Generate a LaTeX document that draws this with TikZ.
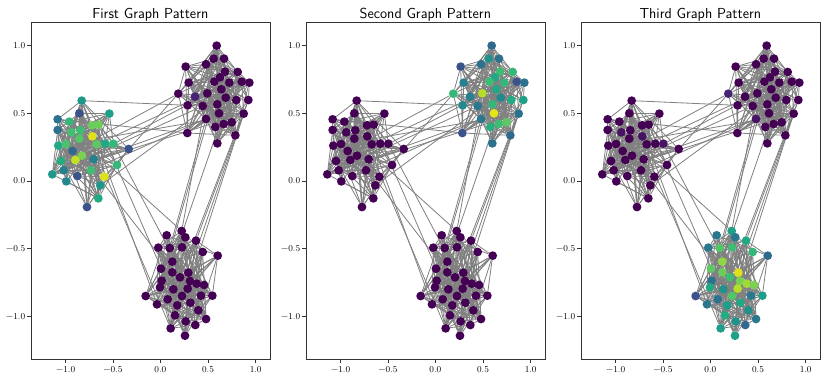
\documentclass[tikz,border=0pt]{standalone}
\usepackage{fontspec}
\pgfdeclarelayer{edges}
\pgfsetlayers{edges,main}
\definecolor{pu}{HTML}{440154}
\definecolor{pua}{HTML}{482475}
\definecolor{pub}{HTML}{471365}
\definecolor{na}{HTML}{3B528B}
\definecolor{ba}{HTML}{31688E}
\definecolor{bb}{HTML}{2C728E}
\definecolor{bc}{HTML}{2A788E}
\definecolor{bd}{HTML}{27808E}
\definecolor{be}{HTML}{23898E}
\definecolor{bf}{HTML}{21918C}
\definecolor{ta}{HTML}{1F988B}
\definecolor{tb}{HTML}{1F9E89}
\definecolor{tc}{HTML}{1FA187}
\definecolor{td}{HTML}{22A884}
\definecolor{te}{HTML}{25AB82}
\definecolor{tf}{HTML}{29AF7F}
\definecolor{ga}{HTML}{35B779}
\definecolor{gb}{HTML}{3DBC74}
\definecolor{gc}{HTML}{40BD72}
\definecolor{gd}{HTML}{44BF70}
\definecolor{ge}{HTML}{4AC16D}
\definecolor{gf}{HTML}{52C569}
\definecolor{gg}{HTML}{5EC962}
\definecolor{la}{HTML}{6CCD5A}
\definecolor{lb}{HTML}{7AD151}
\definecolor{lc}{HTML}{8FD744}
\definecolor{ld}{HTML}{A0DA39}
\definecolor{le}{HTML}{B5DE2B}
\definecolor{ya}{HTML}{C2DF23}
\definecolor{yb}{HTML}{DDE318}
\definecolor{yc}{HTML}{E5E419}
\def\nodelist{%
1/245/302/ta/pu/pu, 2/238/340/na/pu/pu, 3/328/341/tb/pu/pu, 4/173/358/bb/pu/pu,
5/208/365/ga/pu/pu, 6/173/390/bb/pu/pu, 7/241/391/gb/pu/pu, 8/214/397/gd/pu/pub,
9/276/376/la/pu/pu, 10/296/374/la/pu/pu, 11/277/409/yb/pu/pub, 12/238/416/gf/pu/pu,
13/175/437/td/pu/pu, 14/198/432/ge/pu/pu, 15/290/433/gg/pu/pu, 16/316/431/td/pu/pu,
17/340/431/ga/pu/pub, 18/386/447/na/pu/pu, 19/218/453/ba/pu/pu, 20/246/467/lb/pu/pu,
21/226/480/ya/pu/pu, 22/281/478/bd/pu/pu, 23/183/483/te/pu/pu, 24/351/495/ga/pu/pu,
25/191/511/bd/pu/pu, 26/273/511/gc/pu/pu, 27/157/523/ta/pu/pu, 28/232/528/na/pu/pu,
29/313/530/yb/pu/pu, 30/199/544/be/pu/pu, 31/301/556/ta/pu/pu, 32/295/595/td/pu/pu,
33/261/621/na/pu/pu,
34/650/137/pu/ba/pu, 35/557/200/pu/na/pu, 36/618/193/pu/bb/pu, 37/641/176/pu/bf/pu,
38/672/176/pu/bb/pu, 39/675/215/pu/gb/pu, 40/713/216/pu/ga/pu, 41/660/232/pu/td/pu,
42/566/248/pu/bd/pu, 43/643/245/pu/gb/pu, 44/688/248/pu/ga/pu, 45/725/245/pu/na/pu,
46/748/248/pu/bb/pu, 47/535/281/pu/ga/pua, 48/622/280/pu/le/pu, 49/585/290/pua/bd/pu,
50/652/313/pu/ga/pu, 51/677/293/pu/be/pu, 52/709/300/pu/te/pu, 53/745/300/pu/tc/pu,
54/563/316/pu/be/pu, 55/608/318/pu/bc/pu, 56/657/340/pu/yc/pu, 57/731/341/pu/bb/pu,
58/618/357/pu/bc/pub, 59/646/381/pu/tf/pu, 60/671/372/pu/gb/pu, 61/695/367/pu/gg/pu,
62/562/399/pu/na/pu, 63/652/430/pu/bb/pu, 64/706/406/pu/ba/pu, 65/664/268/pu/td/pu,
66/545/693/pu/pu/tc, 67/500/706/pu/pu/bc, 68/556/712/pu/pu/bc, 69/588/722/pu/pu/td,
70/475/743/pu/pu/bc, 71/509/744/pu/pu/gf, 72/546/742/pu/pu/gb, 73/608/756/pu/pu/ga,
74/653/767/pu/pu/ba, 75/517/785/pu/pu/lc, 76/483/806/pu/pu/gg, 77/565/818/pu/pu/yb,
78/517/817/pu/pu/la, 79/540/832/pu/pu/gb, 80/485/842/pu/pu/bb, 81/570/843/pu/pu/lb,
82/590/851/pu/pu/ld, 83/612/855/pu/pu/lb, 84/480/862/pu/pu/td, 85/520/868/pu/pu/bf,
86/563/866/pu/pu/le, 87/603/887/pu/pu/bc, 88/637/887/pu/pu/tb, 89/437/888/pu/pu/na,
90/503/898/pu/pu/bb, 91/546/888/pu/pu/gf, 92/471/913/pu/pu/bc, 93/532/916/pu/pu/tb,
94/571/908/pu/pu/td, 95/595/931/pu/pu/bf, 96/525/946/pu/pu/te, 97/557/964/pu/pu/bf,
98/586/975/pu/pu/ba, 99/618/957/pu/pu/bc, 100/512/985/pu/pu/tb, 101/555/1007/pu/pu/tc}
\begin{document}
\begin{tikzpicture}[x=0.33333pt,y=-0.33333pt,
  dot/.style={circle,inner sep=0pt,minimum size=8.8pt,draw=none},
  edge/.style={draw=black!50,line width=0.8pt},
  frame/.style={draw=black!80,line width=0.9pt},
  tick/.style={draw=black!80,line width=0.8pt},
  ticklab/.style={font=\fontsize{9}{10}\selectfont,inner sep=0pt},
  title/.style={font=\sffamily\fontsize{14.5}{17}\selectfont,inner sep=0pt,anchor=base}]
\useasboundingbox (0,0) rectangle (2490,1134);
\foreach \p/\off/\k/\ttl in {a/0/1/First,b/825/2/Second,c/1650/3/Third}{
  % axes frame
  \draw[frame] (93+\off,68) rectangle (810+\off,1077);
  \node[title] (title\p) at (451+\off,55) {\ttl{} Graph Pattern};
  \foreach \tx/\tl in {197/−1.0,339/−0.5,481/0.0,624/0.5,767/1.0}{
    \draw[tick] (\tx+\off,1077) -- (\tx+\off,1089);
    \node[ticklab,anchor=base] (xl\p\tx) at (\tx+\off,1116) {\tl};
  }
  \foreach \ty/\tl in {136/1.0,340/0.5,543/0.0,746/−0.5,949/−1.0}{
    \draw[tick] (93+\off,\ty) -- (81+\off,\ty);
    \node[ticklab,anchor=east] (yl\p\ty) at (76+\off,\ty) {\tl};
  }
  % nodes
  \foreach \i/\x/\y/\ca/\cb/\cc in \nodelist{
    \ifnum\k=1\relax \edef\col{\ca}\fi
    \ifnum\k=2\relax \edef\col{\cb}\fi
    \ifnum\k=3\relax \edef\col{\cc}\fi
    \node[dot,fill=\col] (\p\i) at (\x+\off,\y) {};
  }
}
% edges
\begin{pgfonlayer}{edges}
\fill[white] (0,0) rectangle (2490,1134);
\foreach \p in {a,b,c}{
  \foreach \i in {1,...,100}{
    \pgfmathtruncatemacro\ip{\i+1}
    \pgfmathtruncatemacro\ci{(\i>33)+(\i>65)}
    \foreach \j in {\ip,...,101}{
      \pgfmathtruncatemacro\cj{(\j>33)+(\j>65)}
      \ifnum\ci=\cj\relax
        \pgfmathtruncatemacro\hh{mod(mod(\i*\i,97)*7+mod(\j*\j,89)*13+mod(\i*\j,83)*29+\i*31+\j*17,100)}
        \ifnum\hh<40\relax \draw[edge] (\p\i) -- (\p\j); \fi
      \else
        \pgfmathtruncatemacro\hk{mod(mod(\i*\j,101)*37+mod(\i*\i,53)*53+\j*71+\i*13,1000)}
        \ifnum\hk<9\relax \draw[edge] (\p\i) -- (\p\j); \fi
      \fi
    }
  }
}
\end{pgfonlayer}
\end{tikzpicture}
\end{document}
